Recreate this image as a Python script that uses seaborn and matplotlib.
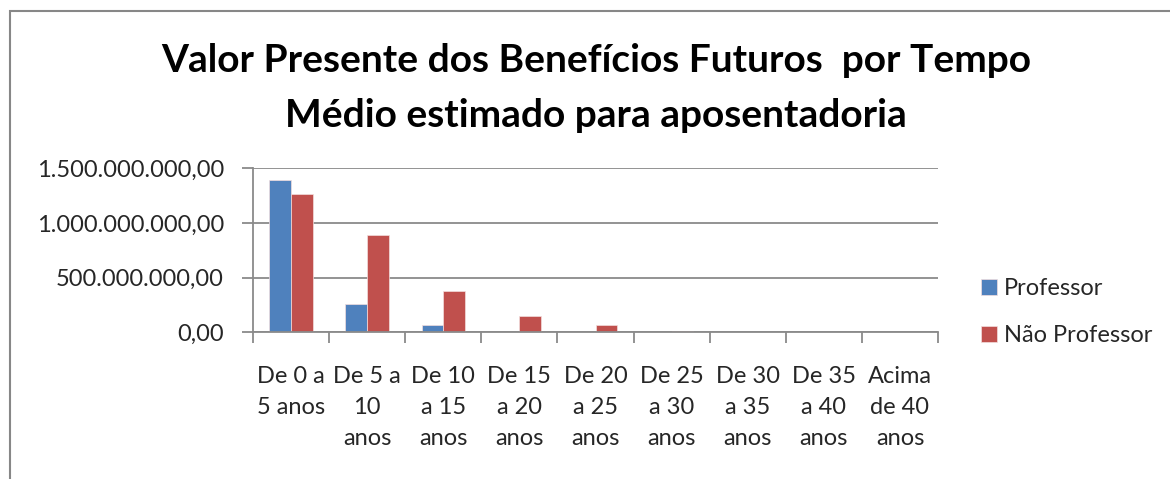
import matplotlib
matplotlib.use("Agg")
import matplotlib.pyplot as plt
import seaborn as sns
import pandas as pd
from matplotlib.patches import Rectangle
from matplotlib.ticker import FuncFormatter, MultipleLocator

categories = ["De 0 a\n5 anos", "De 5 a\n10\nanos", "De 10\na 15\nanos", "De 15\na 20\nanos",
              "De 20\na 25\nanos", "De 25\na 30\nanos", "De 30\na 35\nanos", "De 35\na 40\nanos",
              "Acima\nde 40\nanos"]
professor = [1.393e9, 0.256e9, 0.064e9, 0, 0, 0, 0, 0, 0]
nao_professor = [1.262e9, 0.887e9, 0.375e9, 0.152e9, 0.067e9, 0.012e9, 0, 0, 0]
series_names = ["Professor", "Não Professor"]
title = "Valor Presente dos Benefícios Futuros  por Tempo\nMédio estimado para aposentadoria"

df = pd.DataFrame({
    "cat": categories * 2,
    "val": professor + nao_professor,
    "serie": [series_names[0]] * len(categories) + [series_names[1]] * len(categories),
})

sns.set_theme(style="white")
plt.rcParams['font.family'] = ['Lato', 'DejaVu Sans']

W, H = 1170, 479
fig = plt.figure(figsize=(W / 100, H / 100), dpi=100)
ax = fig.add_axes([253 / W, 1 - 332.3 / H, (938 - 253) / W, (332.3 - 168.3) / H])

sns.barplot(data=df, x="cat", y="val", hue="serie", order=categories,
            palette=["#4F81BD", "#C0504D"], saturation=1, width=0.57, gap=0, ax=ax,
            edgecolor="#f3dede", linewidth=0.5, legend=True)

ax.set_xlim(-0.5, len(categories) - 0.5)
ax.set_ylim(0, 1.5e9)
ax.yaxis.set_major_locator(MultipleLocator(0.5e9))

def br(v, pos):
    s = f"{v:,.2f}"
    return s.replace(",", "X").replace(".", ",").replace("X", ".")
ax.yaxis.set_major_formatter(FuncFormatter(br))

ax.grid(axis="y", color="#8a8a8a", linewidth=1.3)
ax.set_axisbelow(True)
for s in ["top", "right"]:
    ax.spines[s].set_visible(False)
for s in ["left", "bottom"]:
    ax.spines[s].set_color("#8a8a8a")
    ax.spines[s].set_linewidth(1.3)

FS = 17
ax.set_xlabel("")
ax.set_ylabel("")
ax.set_xticks([i - 0.5 for i in range(len(categories) + 1)], minor=False)
ax.set_xticklabels([])
ax.set_xticks(range(len(categories)), minor=True)
ax.set_xticklabels(categories, minor=True, fontsize=FS, linespacing=1.6, va="top")
ax.tick_params(axis="x", which="major", direction="out", length=8, width=1.3, color="#8a8a8a", bottom=True)
ax.tick_params(axis="x", which="minor", length=0, pad=24)
ax.tick_params(axis="y", direction="out", length=8, width=1.3, color="#8a8a8a", left=True,
               labelsize=FS, pad=13)
for lab in ax.get_xticklabels(minor=True):
    lab.set_multialignment("center")

leg = ax.legend(loc="center left", bbox_to_anchor=(960 / W, 1 - 312 / H), bbox_transform=fig.transFigure,
                frameon=False, fontsize=FS, handlelength=0.65, handleheight=0.65,
                handletextpad=0.3, labelspacing=1.1)

fig.text(596 / W, 1 - 88 / H, title, ha="center", va="center", fontsize=28, fontweight="bold",
         linespacing=1.7, color="black")

fig.patches.append(Rectangle((10 / W, -0.1), 1.2, 1 - 11 / H + 0.1, transform=fig.transFigure,
                             fill=False, edgecolor="#878787", linewidth=1.5))

fig.savefig("out.png", dpi=100)
